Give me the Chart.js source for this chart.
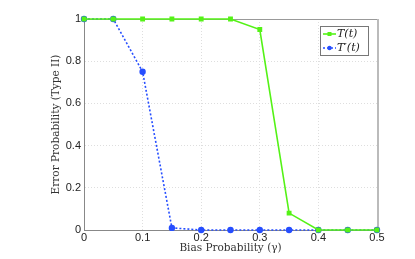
<!DOCTYPE html>
<html>
<head>
<meta charset="utf-8">
<script src="https://cdn.jsdelivr.net/npm/chart.js@4/dist/chart.umd.min.js"></script>
<style>
  html, body { margin: 0; padding: 0; background: #fff; }
  #wrap { width: 415px; height: 259px; }
</style>
</head>
<body>
<div id="wrap"><canvas id="chart"></canvas></div>
<script>
    'use strict';

    // data
    var biasValues = [0, 0.05, 0.1, 0.15, 0.2, 0.25, 0.3, 0.35, 0.4, 0.45, 0.5];
    var errorT = [1, 1, 1, 1, 1, 1, 0.95, 0.08, 0, 0, 0];
    var errorTPrime = [1, 1, 0.75, 0.01, 0, 0, 0, 0, 0, 0, 0];
    var xTicks = [0, 0.1, 0.2, 0.3, 0.4, 0.5];
    var yTicks = [0, 0.2, 0.4, 0.6, 0.8, 1];
    var seriesLabels = ['T(t)', 'T\u2032(t)'];

    var GREEN = 'rgb(84, 242, 22)';
    var BLUE = 'rgb(38, 78, 255)';
    var SERIF = '"DejaVu Serif", "Liberation Serif", serif';
    var SANS = '"Liberation Sans", Arial, sans-serif';

    function toPoints(ys) {
        return biasValues.map(function (x, i) {
            return { x: x, y: ys[i] };
        });
    }

    /**
     * Legend box drawn inside the plot area, top right
     */
    var insideLegend = {
        id: 'insideLegend',
        afterDatasetsDraw: function (chart) {
            var ctx = chart.ctx;
            var area = chart.chartArea;
            var w = 48, h = 29;
            var x0 = Math.round(area.right) - w - 9, y0 = Math.round(area.top) + 7;

            ctx.save();
            ctx.fillStyle = '#fff';
            ctx.fillRect(x0, y0, w, h);
            ctx.strokeStyle = '#777';
            ctx.lineWidth = 1;
            ctx.strokeRect(x0 + 0.5, y0 + 0.5, w, h);

            chart.data.datasets.forEach(function (ds, i) {
                var cy = y0 + 8 + i * 14;
                ctx.strokeStyle = ds.borderColor;
                ctx.lineWidth = ds.borderWidth;
                ctx.setLineDash(ds.borderDash || []);
                ctx.beginPath();
                ctx.moveTo(x0 + 3, cy);
                ctx.lineTo(x0 + 16, cy);
                ctx.stroke();
                ctx.setLineDash([]);
                ctx.fillStyle = ds.pointBackgroundColor;
                ctx.beginPath();
                if (ds.pointStyle === 'rect') {
                    ctx.rect(x0 + 7.5, cy - 2, 4, 4);
                } else {
                    ctx.arc(x0 + 9.5, cy, 2.2, 0, Math.PI * 2);
                }
                ctx.fill();
                ctx.fillStyle = '#222';
                ctx.font = 'italic 11px ' + SERIF;
                ctx.textBaseline = 'middle';
                ctx.fillText(ds.label, x0 + 17, cy);
            });
            ctx.restore();
        }
    };

    /**
     * Light box on the top and right edges of the plot
     */
    var frameBox = {
        id: 'frameBox',
        beforeDatasetsDraw: function (chart) {
            var ctx = chart.ctx;
            var a = chart.chartArea;
            ctx.save();
            ctx.strokeStyle = '#999';
            ctx.lineWidth = 1;
            ctx.beginPath();
            ctx.moveTo(Math.round(a.left) + 0.5, Math.round(a.top) + 0.5);
            ctx.lineTo(Math.round(a.right) + 0.5, Math.round(a.top) + 0.5);
            ctx.stroke();
            ctx.strokeStyle = '#bbb';
            ctx.lineWidth = 2;
            ctx.beginPath();
            ctx.moveTo(Math.round(a.right) + 1, a.top);
            ctx.lineTo(Math.round(a.right) + 1, a.bottom);
            ctx.stroke();
            ctx.restore();
        }
    };

    new Chart(document.getElementById('chart').getContext('2d'), {
        type: 'line',
        data: {
            datasets: [{
                label: seriesLabels[0],
                data: toPoints(errorT),
                borderColor: GREEN,
                backgroundColor: GREEN,
                pointBackgroundColor: GREEN,
                pointBorderColor: GREEN,
                pointStyle: 'rect',
                pointRadius: 2.3,
                borderWidth: 1.6,
                tension: 0,
                clip: false
            }, {
                label: seriesLabels[1],
                data: toPoints(errorTPrime),
                borderColor: BLUE,
                backgroundColor: BLUE,
                pointBackgroundColor: BLUE,
                pointBorderColor: BLUE,
                pointStyle: 'circle',
                pointRadius: 2.4,
                borderWidth: 1.6,
                borderDash: [2, 2],
                tension: 0,
                clip: false
            }]
        },
        options: {
            responsive: true,
            maintainAspectRatio: false,
            animation: false,
            layout: { padding: { top: 19, right: 38, bottom: 0, left: 50 } },
            plugins: {
                legend: { display: false },
                tooltip: { enabled: false }
            },
            scales: {
                x: {
                    type: 'linear',
                    min: 0,
                    max: 0.5,
                    afterBuildTicks: function (axis) {
                        axis.ticks = xTicks.map(function (v) { return { value: v }; });
                    },
                    afterFit: function (axis) { axis.height = 29; },
                    grid: {
                        color: '#dedede',
                        tickLength: 0,
                        drawTicks: false
                    },
                    border: { color: '#888', width: 1, dash: [1, 2] },
                    ticks: {
                        color: '#222',
                        font: { family: SANS, size: 11 },
                        padding: 1,
                        maxRotation: 0,
                        callback: function (v) { return String(v); }
                    },
                    title: {
                        display: true,
                        text: 'Bias Probability (\u03b3)',
                        color: '#333',
                        font: { family: SERIF, size: 10.5 },
                        padding: { top: 0, bottom: 4 }
                    }
                },
                y: {
                    min: 0,
                    max: 1,
                    afterBuildTicks: function (axis) {
                        axis.ticks = yTicks.map(function (v) { return { value: v }; });
                    },
                    afterFit: function (axis) { axis.width = 34; },
                    grid: {
                        color: '#dedede',
                        drawTicks: false
                    },
                    border: { color: '#888', width: 1, dash: [1, 2] },
                    ticks: {
                        color: '#222',
                        font: { family: SANS, size: 11 },
                        padding: 3,
                        callback: function (v) { return String(v); }
                    },
                    title: {
                        display: true,
                        text: 'Error Probability (Type II)',
                        color: '#333',
                        font: { family: SERIF, size: 10.5 },
                        padding: { top: 0, bottom: 1 }
                    }
                }
            }
        },
        plugins: [frameBox, insideLegend]
    });
</script>
</body>
</html>
